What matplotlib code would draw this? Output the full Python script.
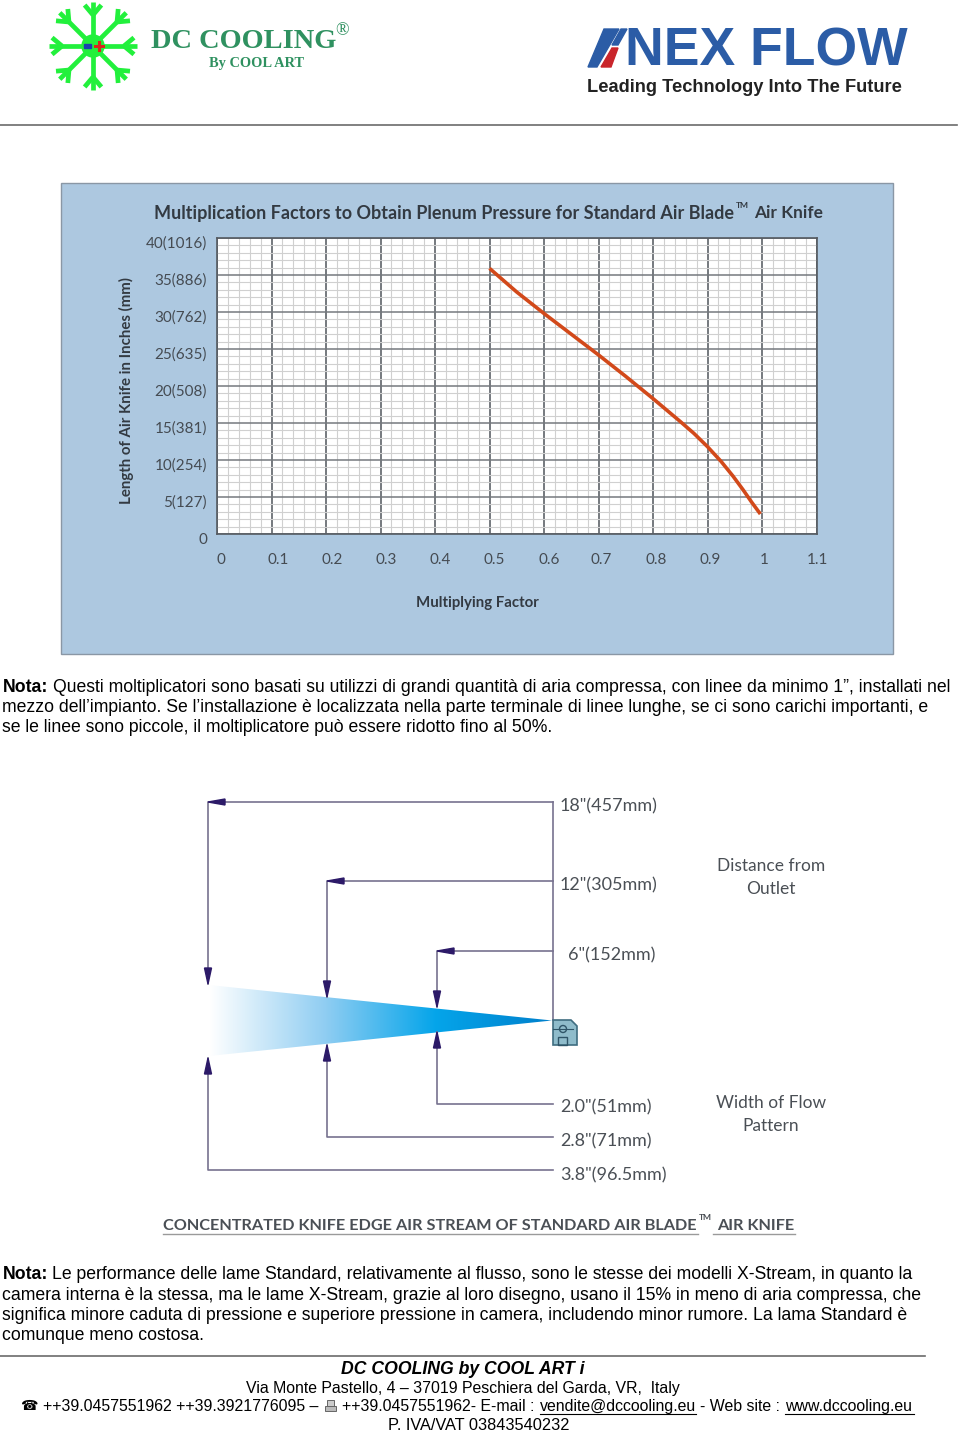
import matplotlib

matplotlib.use("Agg")
import matplotlib.pyplot as plt
import numpy as np
from matplotlib.colors import LinearSegmentedColormap
from matplotlib.patches import Circle, Polygon, Rectangle

W, H = 960, 1432

# values
factor = [0.5, 0.55, 0.6, 0.65, 0.7, 0.75, 0.8, 0.85, 0.875, 0.9, 0.925, 0.947, 0.965, 0.981, 0.997]
length_in = [35.9, 32.7, 29.8, 27.0, 24.2, 21.3, 18.3, 15.2, 13.6, 11.8, 9.8, 7.8, 6.0, 4.3, 2.7]

x_ticks = [0, 0.1, 0.2, 0.3, 0.4, 0.5, 0.6, 0.7, 0.8, 0.9, 1.0, 1.1]
x_labels = ["0", "0.1", "0.2", "0.3", "0.4", "0.5", "0.6", "0.7", "0.8", "0.9", "1", "1.1"]
x_label_shift = [4, 6.5, 6, 5.5, 5, 5, 5, 3, 3, 3, 2, 1]
y_ticks = [0, 5, 10, 15, 20, 25, 30, 35, 40]
y_labels = ["0", "5(127)", "10(254)", "15(381)", "20(508)", "25(635)", "30(762)", "35(886)", "40(1016)"]

# flow diagram leaders, page pixels: (x, top y, up tip, down tip, bottom y)
leaders = [
    (208, 802, 984, 1058, 1170),
    (327, 881, 997, 1045, 1137),
    (437, 951, 1007, 1032, 1104),
]
distance_labels = ['18"(457mm)', '12"(305mm)', '6"(152mm)']
width_labels = ['2.0"(51mm)', '2.8"(71mm)', '3.8"(96.5mm)']

note_1 = [
    "Questi moltiplicatori sono basati su utilizzi di grandi quantità di aria compressa, con linee da minimo 1”, installati nel",
    "mezzo dell’impianto. Se l’installazione è localizzata nella parte terminale di linee lunghe, se ci sono carichi importanti, e",
    "se le linee sono piccole, il moltiplicatore può essere ridotto fino al 50%.",
]
note_2 = [
    "Le performance delle lame Standard, relativamente al flusso, sono le stesse dei modelli X-Stream, in quanto la",
    "camera interna è la stessa, ma le lame X-Stream, grazie al loro disegno, usano il 15% in meno di aria compressa, che",
    "significa minore caduta di pressione e superiore pressione in camera, includendo minor rumore. La lama Standard è",
    "comunque meno costosa.",
]

ARIAL = "Liberation Sans"
SERIF = "Liberation Serif"
CHART = "Lato"
PANEL = "#adc8e0"
BODY_PX = 17.68


def px(size):
    # font size in points from a height in pixels at dpi 100
    return size * 0.72


def put(ax, x, y, s, size, family=ARIAL, color="black", weight="normal", ha="left", va="center", **kw):
    return ax.text(x, y, s, fontsize=px(size), family=family, color=color, weight=weight, ha=ha, va=va, **kw)


fig = plt.figure(figsize=(W / 100, H / 100), dpi=100, facecolor="white")
page = fig.add_axes([0, 0, 1, 1])
page.set_xlim(0, W)
page.set_ylim(H, 0)
page.axis("off")

# ---- header
page.plot([0, 957], [124.5, 124.5], color="#6b6b6b", lw=1.2)

green = "#22f03c"
cx, cy = 93, 46
for a in np.deg2rad(np.arange(0, 360, 45)):
    r = 44 if int(round(np.rad2deg(a))) % 90 == 0 else 47
    ex, ey = cx + r * np.cos(a), cy + r * np.sin(a)
    page.plot([cx, ex], [cy, ey], color=green, lw=3.4, solid_capstyle="butt")
    for side in (-1, 1):
        mx, my = cx + (r - 13) * np.cos(a), cy + (r - 13) * np.sin(a)
        b = a + side * np.deg2rad(40)
        page.plot([mx, mx + 13 * np.cos(b)], [my, my + 13 * np.sin(b)], color=green, lw=3.4, solid_capstyle="butt")
page.add_patch(Circle((cx, cy), 11, color=green, zorder=3))
page.add_patch(Rectangle((84, 44), 7, 4, color="#1a3fb0", zorder=4))
page.plot([95, 103], [46, 46], color="#d9261c", lw=2.2, zorder=4)
page.plot([99, 99], [42, 50], color="#d9261c", lw=2.2, zorder=4)

put(page, 151, 42, "DC COOLING", 28.4, family=SERIF, color="#2f9160", weight="bold")
put(page, 335, 31, "®", 18, family=SERIF, color="#2f9160")
put(page, 209, 64, "By COOL ART", 14.4, family=SERIF, color="#2f9160", weight="bold")

blue = "#2b5ca6"
page.add_patch(Polygon([(588, 67), (604, 29), (619, 29), (597, 67)], color=blue))
page.add_patch(Polygon([(601, 67), (612, 48), (618, 48), (611, 67)], color="#c9252b"))
page.add_patch(Polygon([(612, 45), (621, 29), (627, 29), (618, 45)], color=blue))
put(page, 625, 52, "NEX FLOW", 53.5, color=blue, weight="bold")
put(page, 587, 88, "Leading Technology Into The Future", 18.3, color="#222222", weight="bold")

# ---- chart panel
page.add_patch(Rectangle((61, 183), 832, 471, facecolor=PANEL, edgecolor="#8a97a5", lw=1))
title_color = "#333a42"
put(page, 154, 213, "Multiplication Factors to Obtain Plenum Pressure for Standard Air Blade", 18.05,
    family=CHART, color=title_color, weight="bold")
put(page, 736, 206, "TM", 8.5, family=CHART, color=title_color, weight="bold")
put(page, 754, 213, "Air Knife", 17.3, family=CHART, color=title_color, weight="bold")
put(page, 126, 391, "Length of Air Knife in Inches (mm)", 15, family=CHART, color=title_color,
    weight="bold", ha="center", rotation=90)
put(page, 477.5, 603, "Multiplying Factor", 15, family=CHART, color=title_color, weight="bold", ha="center")

ax = fig.add_axes([217 / W, 1 - 534 / H, 599.5 / W, 296 / H], zorder=2)
ax.set_facecolor("white")
ax.set_xlim(0, 1.1)
ax.set_ylim(0, 40)
ax.set_xticks(x_ticks)
ax.set_xticks(np.arange(0, 1.1, 0.02), minor=True)
ax.set_yticks(y_ticks)
ax.set_yticks(np.arange(0, 41, 1), minor=True)
ax.set_xticklabels([])
ax.set_yticklabels([])
ax.tick_params(which="both", length=0)
ax.grid(which="minor", color="#d0d0d0", lw=0.8)
ax.grid(which="major", axis="x", color="#50555b", lw=1.1)
ax.grid(which="major", axis="y", color="#75797e", lw=1.1)
ax.set_axisbelow(True)
for spine in ax.spines.values():
    spine.set_color("#555a60")
    spine.set_linewidth(1.2)
ax.plot(factor, length_in, color="#d2491a", lw=2.6, solid_capstyle="butt")

tick_color = "#454b52"
for v, lab, shift in zip(x_ticks, x_labels, x_label_shift):
    ax.annotate(lab, (v, 0), xytext=(shift * 0.72, -25.5 * 0.72), textcoords="offset points", ha="center",
                va="center", fontsize=px(15.2), family=CHART, color=tick_color, annotation_clip=False)
for v, lab in zip(y_ticks, y_labels):
    ax.annotate(lab, (0, v), xytext=(-10 * 0.72, -6 * 0.72), textcoords="offset points", ha="right",
                va="center", fontsize=px(15.2), family=CHART, color=tick_color, annotation_clip=False)

# ---- notes
for i, line in enumerate(note_1):
    put(page, 53 if i == 0 else 2.5, 687 + i * 20.5, line, BODY_PX)
put(page, 2.5, 687, "Nota:", BODY_PX, weight="bold")
for i, line in enumerate(note_2):
    put(page, 52 if i == 0 else 2.5, 1274.5 + i * 20.5, line, BODY_PX)
put(page, 2.5, 1274.5, "Nota:", BODY_PX, weight="bold")

# ---- flow diagram
fan_cmap = LinearSegmentedColormap.from_list(
    "fan", [(0, "#ffffff"), (0.34, "#8fcdf2"), (0.66, "#05a5ea"), (1, "#0080cc")]
)
fan = Polygon([(209, 985), (552, 1020.5), (209, 1056)], transform=page.transData, facecolor="none", edgecolor="none")
page.add_patch(fan)
im = page.imshow(np.linspace(0, 1, 256).reshape(1, -1), cmap=fan_cmap, extent=(209, 552, 1056, 985), aspect="auto")
im.set_clip_path(fan)
page.set_xlim(0, W)
page.set_ylim(H, 0)

line_c = "#77728f"
head_c = "#2c1a68"
for x, top, tip_up, tip_down, bottom in leaders:
    page.plot([553, x, x], [top, top, tip_up], color=line_c, lw=1.2, zorder=3)
    page.plot([553, x, x], [bottom, bottom, tip_down], color=line_c, lw=1.2, zorder=3)
    page.add_patch(Polygon([(x, top), (x + 17, top - 3), (x + 17, top + 3)], color=head_c, zorder=4))
    page.add_patch(Polygon([(x, tip_up), (x - 3.5, tip_up - 16), (x + 3.5, tip_up - 16)], color=head_c, zorder=4))
    page.add_patch(Polygon([(x, tip_down), (x - 3.5, tip_down + 16), (x + 3.5, tip_down + 16)], color=head_c, zorder=4))
page.plot([553, 553], [802, 1020], color=line_c, lw=1.2, zorder=3)

page.add_patch(Polygon([(553, 1020), (571, 1020), (577, 1026), (577, 1045), (553, 1045)],
                       facecolor="#8fbccb", edgecolor="#3f6d80", lw=1.2, zorder=4))
page.add_patch(Circle((563, 1029), 3.5, facecolor="none", edgecolor="#2f5568", lw=1, zorder=5))
page.add_patch(Rectangle((558, 1037), 9, 8, facecolor="none", edgecolor="#2f5568", lw=1, zorder=5))
page.plot([553, 573], [1029, 1029], color="#2f5568", lw=0.8, zorder=5)

diagram_c = "#4a4f55"
for y, x0, lab in zip([806, 885, 955], [560, 560, 568], distance_labels):
    put(page, x0, y, lab, 18, family=CHART, color=diagram_c)
for y, lab in zip([1107, 1141, 1175], width_labels):
    put(page, 560, y, lab, 18, family=CHART, color=diagram_c)
put(page, 771, 866, "Distance from", 17.4, family=CHART, color=diagram_c, ha="center")
put(page, 771, 889, "Outlet", 17.4, family=CHART, color=diagram_c, ha="center")
put(page, 771, 1103, "Width of Flow", 17.4, family=CHART, color=diagram_c, ha="center")
put(page, 771, 1126, "Pattern", 17.4, family=CHART, color=diagram_c, ha="center")

put(page, 163, 1226, "CONCENTRATED KNIFE EDGE AIR STREAM OF STANDARD AIR BLADE", 16.3, family=CHART,
    color=diagram_c, weight="bold")
put(page, 699, 1218, "TM", 8.5, family=CHART, color=diagram_c, weight="bold")
put(page, 717, 1226, "AIR KNIFE", 16.3, family=CHART, color=diagram_c, weight="bold")
page.plot([163, 698], [1233.5, 1233.5], color="#9a9a9a", lw=1)
page.plot([713, 795], [1233.5, 1233.5], color="#9a9a9a", lw=1)

# ---- footer
page.plot([0, 925], [1355.5, 1355.5], color="#6b6b6b", lw=1.2)
put(page, 463, 1369.5, "DC COOLING by COOL ART i", 17.6, weight="bold", ha="center", style="italic")
put(page, 462.5, 1388.5, "Via Monte Pastello, 4 – 37019 Peschiera del Garda, VR,  Italy", 15.85, ha="center")
put(page, 30, 1406, "☎", 14, family="DejaVu Sans", ha="center")
put(page, 43, 1406.5, "++39.0457551962 ++39.3921776095 –", 15.85)
page.add_patch(Rectangle((327, 1400), 7, 6, facecolor="#cccccc", edgecolor="#666666", lw=0.7))
page.add_patch(Rectangle((325, 1406), 11, 5, facecolor="#bbbbbb", edgecolor="#666666", lw=0.7))
put(page, 342, 1406.5, "++39.0457551962- E-mail :", 15.85)
put(page, 540, 1406.5, "vendite@dccooling.eu", 15.85)
put(page, 700, 1406.5, "- Web site :", 15.85)
put(page, 785, 1406.5, "www.dccooling.eu", 15.85)
page.plot([540, 696], [1414, 1414], color="black", lw=0.8)
page.plot([785, 914], [1414, 1414], color="black", lw=0.8)
put(page, 478.5, 1425, "P. IVA/VAT 03843540232", 16.4, ha="center")

fig.savefig("out.png", dpi=100)
